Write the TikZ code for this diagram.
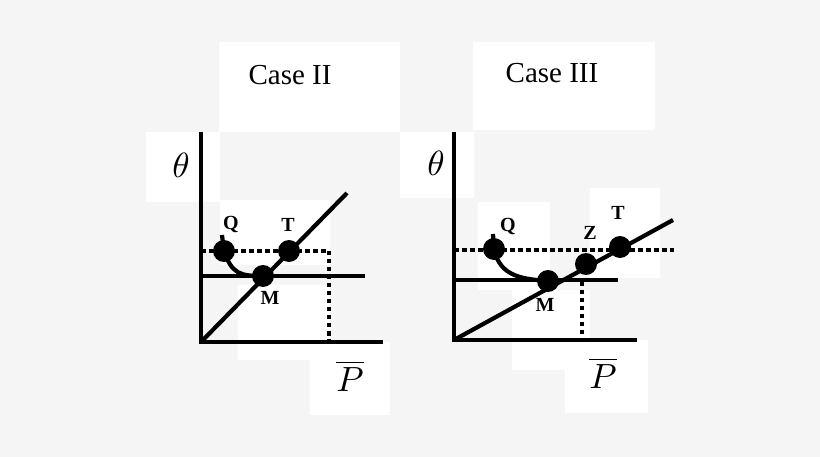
\documentclass[tikz,border=0pt]{standalone}
\usepackage{fontspec}
\setmainfont{Liberation Serif}
\begin{document}
\begin{tikzpicture}[x=1pt,y=-1pt,
  ax/.style={line width=4.2pt},
  dl/.style={line width=4.5pt,dash pattern=on 4.5pt off 3.5pt},
  dot/.style={circle,fill=black,minimum size=22pt,inner sep=0pt},
  lab/.style={font=\bfseries\fontsize{20}{20}\selectfont},
  ttl/.style={font=\fontsize{29}{29}\selectfont},
  wb/.style={fill=white,draw=none}]
\fill[black!4] (0,0) rectangle (820,457);
\useasboundingbox (0,0) rectangle (820,457);
% white boxes
\foreach \a/\b/\c/\d in {219/42/400/132, 146/132/220/202, 220/200/330/265, 238/285/330/360, 310/342/390/415,
  473/42/655/130, 400/132/474/198, 478/202/550/290, 512/290/590/370, 565/340/648/413, 590/188/660/278}
  \fill[white] (\a,\b) rectangle (\c,\d);
% Case II
\node[ttl] (t2) at (290,75) {Case II};
\node (th2) at (181,165) {\scalebox{3.5}{$\theta$}};
\coordinate (o2) at (201,342);
\coordinate (y2) at (201,132);
\coordinate (x2) at (383,342);
\draw[ax] (y2) -- (o2) -- (x2);
\coordinate (d2) at (347,193);
\draw[ax] (o2) -- (d2);
\coordinate (h2a) at (201,276); \coordinate (h2b) at (365,276);
\draw[ax] (h2a) -- (h2b);
\coordinate (p2a) at (201,251); \coordinate (p2b) at (329,251); \coordinate (p2c) at (329,340);
\draw[dl] (p2a) -- (p2b) -- (p2c);
\node[dot] (Q2) at (224,251) {};
\node[dot] (T2) at (289,251) {};
\node[dot] (M2) at (263,276) {};
\draw[ax] (222,235) -- (Q2.center) .. controls (232,274) and (240,276) .. (M2.center);
\node[lab] (lq2) at (231,225) {Q};
\node[lab] (lt2) at (288,225) {T};
\node[lab] (lm2) at (270,298) {M};
\node (pb2) at (350,376) {\scalebox{3.5}{$\overline{P}$}};
% Case III
\node[ttl] (t3) at (552,73) {Case III};
\node (th3) at (436,163) {\scalebox{3.5}{$\theta$}};
\coordinate (o3) at (454,340);
\coordinate (y3) at (454,132);
\coordinate (x3) at (637,340);
\draw[ax] (y3) -- (o3) -- (x3);
\coordinate (d3) at (673,220);
\draw[ax] (o3) -- (d3);
\coordinate (h3a) at (454,280); \coordinate (h3b) at (618,280);
\draw[ax] (h3a) -- (h3b);
\coordinate (p3a) at (454,250); \coordinate (p3b) at (674,250);
\draw[dl] (p3a) -- (p3b);
\coordinate (v3a) at (582,282); \coordinate (v3b) at (582,338);
\draw[dl] (v3a) -- (v3b);
\node[dot] (Q3) at (494,249) {};
\node[dot] (M3) at (548,281) {};
\node[dot] (Z3) at (586,264) {};
\node[dot] (T3) at (620,247) {};
\draw[ax] (493,234) -- (Q3.center) .. controls (500,278) and (525,279) .. (M3.center);
\node[lab] (lq3) at (508,227) {Q};
\node[lab] (lz3) at (590,233) {Z};
\node[lab] (lt3) at (618,213) {T};
\node[lab] (lm3) at (545,305) {M};
\node (pb3) at (603,373) {\scalebox{3.5}{$\overline{P}$}};
\end{tikzpicture}
\end{document}
